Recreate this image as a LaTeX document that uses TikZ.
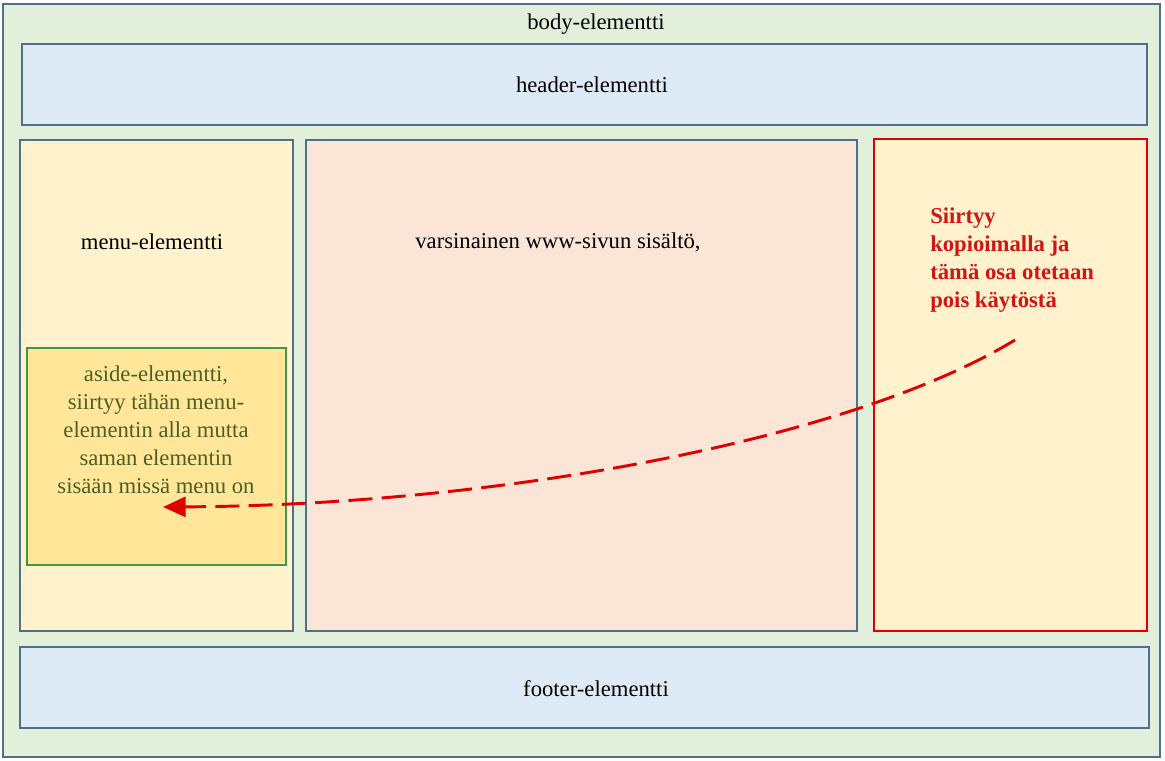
\documentclass[tikz,border=0pt]{standalone}
\usepackage{fontspec}
\setmainfont{Liberation Serif}
\usetikzlibrary{arrows.meta}
\definecolor{bodyfill}{HTML}{E2EFDA}
\definecolor{bluefill}{HTML}{DEEBF7}
\definecolor{yellowfill}{HTML}{FFF2CC}
\definecolor{peachfill}{HTML}{FBE5D6}
\definecolor{asidefill}{HTML}{FFE699}
\definecolor{grayblue}{HTML}{4F6F8A}
\definecolor{asidegreen}{HTML}{3A9A4A}
\definecolor{asidetext}{HTML}{4D5F24}
\definecolor{redline}{HTML}{E00000}
\definecolor{redtext}{HTML}{D01515}
\tikzset{
  box/.style={draw=grayblue, line width=1.5pt, inner sep=0pt, rectangle},
  lbl/.style={font=\fontsize{17}{20.5}\selectfont, inner sep=0pt},
}
\begin{document}
\begin{tikzpicture}[x=0.75pt,y=-0.75pt]
\useasboundingbox (0,0) rectangle (1165,761);
\node[box, fill=bodyfill, minimum width=867.75pt, minimum height=564.75pt] (body) at (581.5,380.5) {};
\node[box, fill=bluefill, minimum width=843.75pt, minimum height=60.75pt] (header) at (584.5,84.5) {};
\node[box, fill=yellowfill, minimum width=204.75pt, minimum height=368.25pt] (menu) at (156.5,385.5) {};
\node[box, fill=peachfill, minimum width=413.25pt, minimum height=368.25pt] (content) at (581.5,385.5) {};
\node[box, draw=redline, fill=yellowfill, minimum width=204.75pt, minimum height=369pt] (redbox) at (1010.5,385) {};
\node[box, draw=asidegreen, fill=asidefill, minimum width=194.25pt, minimum height=162.75pt] (aside) at (156.5,456.5) {};
\node[box, fill=bluefill, minimum width=846.75pt, minimum height=60.75pt] (footer) at (584.5,687.5) {};

\node[lbl] (bodylbl) at (596,24) {body-elementti};
\node[lbl] (headerlbl) at (592,85) {header-elementti};
\node[lbl] (menulbl) at (152,242) {menu-elementti};
\node[lbl] (contentlbl) at (558,242) {varsinainen www-sivun sisältö,};
\node[lbl] (footerlbl) at (596,689) {footer-elementti};
\node[lbl, text=asidetext, align=center, font=\fontsize{17}{21}\selectfont] (asidelbl) at (156,430)
  {aside-elementti,\\siirtyy tähän menu-\\elementin alla mutta\\saman elementin\\sisään missä menu on};
\node[lbl, text=redtext, align=left, anchor=north west, font=\fontsize{17}{20.9}\bfseries\selectfont] (redlbl) at (930,208)
  {Siirtyy\\kopioimalla ja\\tämä osa otetaan\\pois käytöstä};

\coordinate (from) at (1015,340);
\coordinate (to) at (163,507);
\draw[redline, line width=2.2pt, dash pattern=on 18pt off 7pt, -{Triangle[length=17pt,width=15pt]}]
  (from) .. controls (850,440) and (500,505) .. (to);
\end{tikzpicture}
\end{document}
